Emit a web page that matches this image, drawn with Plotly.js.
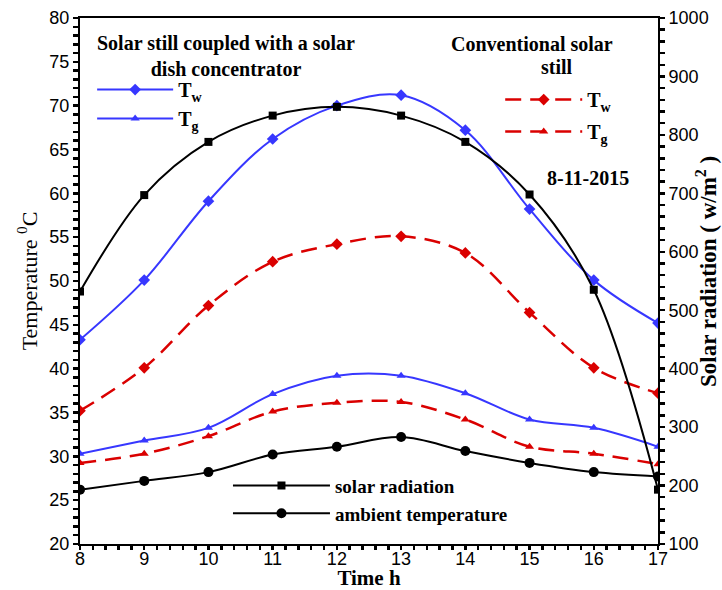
<!DOCTYPE html>
<html>
<head>
<meta charset="utf-8">
<script src="https://cdn.plot.ly/plotly-3.0.1.min.js"></script>
<style>html,body{margin:0;padding:0;background:#fff;}#chart{width:722px;height:590px;}</style>
</head>
<body>
<div id="chart"></div>
<script>
const hours = [8, 9, 10, 11, 12, 13, 14, 15, 16, 17];
const solarRadiation = [532, 697, 788, 833, 848, 833, 788, 698, 535, 193];
const ambientTemp = [26.2, 27.2, 28.2, 30.2, 31.1, 32.2, 30.6, 29.25, 28.2, 27.7];
const dishTw = [43.3, 50.1, 59.1, 66.2, 70.0, 71.2, 67.2, 58.2, 50.1, 45.2];
const dishTg = [30.3, 31.8, 33.25, 37.1, 39.2, 39.2, 37.2, 34.2, 33.25, 31.1];
const convTw = [35.2, 40.1, 47.2, 52.2, 54.2, 55.1, 53.2, 46.4, 40.1, 37.2];
const convTg = [29.25, 30.3, 32.3, 35.1, 36.1, 36.2, 34.2, 31.1, 30.3, 29.1];

const xTickLabels = ['8', '9', '10', '11', '12', '13', '14', '15', '16', '17'];
const yTickLabels = ['20', '25', '30', '35', '40', '45', '50', '55', '60', '65', '70', '75', '80'];
const y2TickLabels = ['100', '200', '300', '400', '500', '600', '700', '800', '900', '1000'];

// major + minor tick positions (labels only on the majors)
function ticksFor(labels, minorPerMajor) {
  const vals = [], text = [];
  for (let i = 0; i < labels.length; i++) {
    const v = Number(labels[i]);
    vals.push(v); text.push(labels[i]);
    if (i < labels.length - 1) {
      const step = (Number(labels[i + 1]) - v) / (minorPerMajor + 1);
      for (let k = 1; k <= minorPerMajor; k++) { vals.push(+(v + k * step).toFixed(6)); text.push(''); }
    }
  }
  return {vals, text};
}
const xt = ticksFor(xTickLabels, 4);
const yt = ticksFor(yTickLabels, 4);
const y2t = ticksFor(y2TickLabels, 4);

const BLUE = 'rgb(55,55,255)';
const RED = 'rgb(218,0,0)';
const serif = 'Liberation Serif, Times New Roman, serif';
const sans = 'Liberation Sans, Arial, sans-serif';
const DASH = '16px,9px';

const traces = [
  {x: hours, y: dishTw, name: 'T<sub>w</sub>', mode: 'lines+markers', legend: 'legend', legendgroup: 'a',
   line: {color: BLUE, width: 2, shape: 'spline'}, marker: {symbol: 'diamond', size: 9, color: BLUE}},
  {x: hours, y: dishTg, name: 'T<sub>g</sub>', mode: 'lines+markers', legend: 'legend', legendgroup: 'b',
   line: {color: BLUE, width: 2, shape: 'spline'}, marker: {symbol: 'triangle-up', size: 8, color: BLUE}},
  {x: hours, y: convTw, name: 'T<sub>w</sub>', mode: 'lines+markers', legend: 'legend2', legendgroup: 'c',
   line: {color: RED, width: 2.5, shape: 'spline', dash: DASH}, marker: {symbol: 'diamond', size: 9, color: RED}},
  {x: hours, y: convTg, name: 'T<sub>g</sub>', mode: 'lines+markers', legend: 'legend2', legendgroup: 'd',
   line: {color: RED, width: 2.5, shape: 'spline', dash: DASH}, marker: {symbol: 'triangle-up', size: 8, color: RED}},
  {x: hours, y: solarRadiation, name: 'solar radiation', mode: 'lines+markers', legend: 'legend3', yaxis: 'y2',
   line: {color: 'black', width: 2, shape: 'spline'}, marker: {symbol: 'square', size: 8, color: 'black'}},
  {x: hours, y: ambientTemp, name: 'ambient temperature', mode: 'lines+markers', legend: 'legend3',
   line: {color: 'black', width: 2, shape: 'spline'}, marker: {symbol: 'circle', size: 10, color: 'black'}}
];

const axisCommon = {
  showgrid: false, zeroline: false, showline: true, linecolor: 'black', linewidth: 2,
  ticks: 'outside', tickwidth: 2.5, tickcolor: 'black', tickmode: 'array', tickangle: 0,
  tickfont: {family: sans, size: 18, color: 'black'}
};

const layout = {
  width: 722, height: 590,
  margin: {l: 80, r: 64, t: 18, b: 46},
  paper_bgcolor: '#fff', plot_bgcolor: '#fff',
  xaxis: Object.assign({}, axisCommon, {
    range: [8, 17], tickvals: xt.vals, ticktext: xt.text, ticklen: 4, mirror: true,
    ticklabelstandoff: -7,
    title: {text: '<b>Time h</b>', font: {family: serif, size: 21, color: 'black'}, standoff: 4}
  }),
  yaxis: Object.assign({}, axisCommon, {
    range: [20, 80], tickvals: yt.vals, ticktext: yt.text, ticklen: 5,
    title: {text: 'Temperature <sup>0</sup>C', font: {family: serif, size: 22, color: 'black'}, standoff: 6}
  }),
  yaxis2: Object.assign({}, axisCommon, {
    range: [100, 1000], tickvals: y2t.vals, ticktext: y2t.text, ticklen: 5,
    overlaying: 'y', side: 'right'
  }),
  legend: {x: 0.021, y: 0.901, xanchor: 'left', yanchor: 'top', bgcolor: 'rgba(0,0,0,0)', itemwidth: 76,
    font: {family: serif, size: 20, color: 'black', weight: 'bold'}, tracegroupgap: 0},
  legend2: {x: 0.727, y: 0.882, xanchor: 'left', yanchor: 'top', bgcolor: 'rgba(0,0,0,0)', itemwidth: 77,
    font: {family: serif, size: 20, color: 'black', weight: 'bold'}, tracegroupgap: 3},
  legend3: {x: 0.256, y: 0.147, xanchor: 'left', yanchor: 'top', bgcolor: 'rgba(0,0,0,0)', itemwidth: 97,
    font: {family: serif, size: 19, color: 'black', weight: 'bold'}},
  annotations: [
    {xref: 'paper', yref: 'paper', x: 0.253, y: 0.927, xanchor: 'center', yanchor: 'middle', showarrow: false,
     text: '<b>Solar still coupled with a solar<br>dish concentrator</b>', align: 'center',
     font: {family: serif, size: 20, color: 'black'}},
    {xref: 'paper', yref: 'paper', x: 0.782, y: 0.95, xanchor: 'center', yanchor: 'middle', showarrow: false,
     text: '<b>Conventional solar</b>', font: {family: serif, size: 20, color: 'black'}},
    {xref: 'paper', yref: 'paper', x: 0.825, y: 0.906, xanchor: 'center', yanchor: 'middle', showarrow: false,
     text: '<b>still</b>', font: {family: serif, size: 20, color: 'black'}},
    {xref: 'paper', yref: 'paper', x: 0.879, y: 0.696, xanchor: 'center', yanchor: 'middle', showarrow: false,
     text: '<b>8-11-2015</b>', font: {family: serif, size: 20, color: 'black'}},
    {xref: 'paper', yref: 'paper', x: 1.083, y: 0.519, xanchor: 'center', yanchor: 'middle', showarrow: false,
     textangle: -90, text: '<b>Solar radiation ( w/m<sup>2</sup> )</b>', font: {family: serif, size: 23, color: 'black'}}
  ],
  showlegend: true
};

Plotly.newPlot('chart', traces, layout, {displayModeBar: false, staticPlot: true});
</script>
</body>
</html>
